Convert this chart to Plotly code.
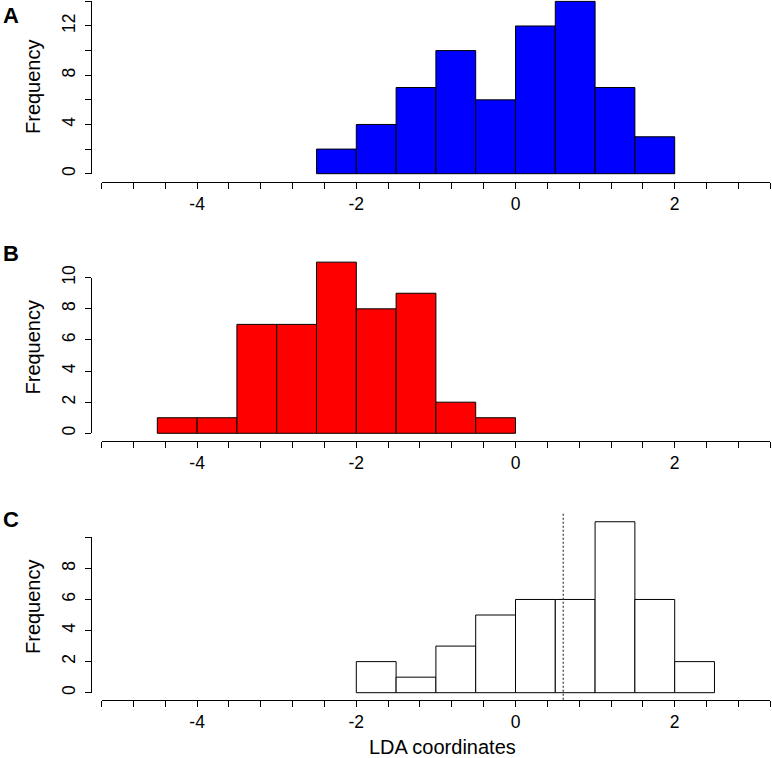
import plotly.graph_objects as go

# ---------------- data ----------------
bin_edges_A = [-2.5, -2.0, -1.5, -1.0, -0.5, 0.0, 0.5, 1.0, 1.5, 2.0]
counts_A = [2, 4, 7, 10, 6, 12, 14, 7, 3]

bin_edges_B = [-4.5, -4.0, -3.5, -3.0, -2.5, -2.0, -1.5, -1.0, -0.5, 0.0]
counts_B = [1, 1, 7, 7, 11, 8, 9, 2, 1]

bin_edges_C = [-2.0, -1.5, -1.0, -0.5, 0.0, 0.5, 1.0, 1.5, 2.0, 2.5]
counts_C = [2, 1, 3, 5, 6, 6, 11, 6, 2]

threshold_C = 0.6

x_tick_values = [-5.2, -4.8, -4.4, -4.0, -3.6, -3.2, -2.8, -2.4, -2.0, -1.6, -1.2,
                 -0.8, -0.4, 0.0, 0.4, 0.8, 1.2, 1.6, 2.0, 2.4, 2.8, 3.2]
x_tick_labelled = [-4, -2, 0, 2]

y_ticks_A = [0, 2, 4, 6, 8, 10, 12, 14]
y_labels_A = ["0", "", "4", "", "8", "", "12", ""]
y_ticks_B = [0, 2, 4, 6, 8, 10]
y_labels_B = ["0", "2", "4", "6", "8", "10"]
y_ticks_C = [0, 2, 4, 6, 8, 10]
y_labels_C = ["0", "2", "4", "6", "8", ""]

panel_letters = ["A", "B", "C"]
y_title = "Frequency"
x_title = "LDA coordinates"

# ---------------- layout geometry (pixels) ----------------
W, H = 772, 758
FONT = "Liberation Sans, Arial, Helvetica, sans-serif"


def fx(px):
    return px / W


def fy(py):
    return 1 - py / H


x_px = (101.6, 770.2)          # pixel span of x range [-5.2, 3.2]
y_axis_px = 90.7               # y axis line x position

panels = [
    dict(zero=173.7, ppu=12.31, xline=181.7, drange=(-0.5, 14.1), yt=y_ticks_A, yl=y_labels_A,
         color="#0000FF", edges=bin_edges_A, counts=counts_A, tcy=87.0, ly=16.0),
    dict(zero=433.3, ppu=15.56, xline=440.7, drange=(-0.44, 11.44), yt=y_ticks_B, yl=y_labels_B,
         color="#FF0000", edges=bin_edges_B, counts=counts_B, tcy=347.5, ly=253.0),
    dict(zero=692.7, ppu=15.54, xline=700.0, drange=(-0.45, 11.55), yt=y_ticks_C, yl=y_labels_C,
         color="#FFFFFF", edges=bin_edges_C, counts=counts_C, tcy=607.0, ly=519.0),
]

fig = go.Figure()
layout = dict(
    width=W, height=H,
    margin=dict(l=0, r=0, t=0, b=0, pad=0, autoexpand=False),
    paper_bgcolor="white", plot_bgcolor="rgba(0,0,0,0)",
    showlegend=False,
    font=dict(family=FONT, color="black"),
    annotations=[], shapes=[],
)

x_ticktext = [("%g" % v) if any(abs(v - t) < 1e-9 for t in x_tick_labelled) else "" for v in x_tick_values]

for i, p in enumerate(panels, start=1):
    xa = "x" if i == 1 else "x%d" % i
    ya_data = "y" if i == 1 else "y%d" % i
    ya_vis = "y%d" % (i + 3)

    centers = [(a + b) / 2 for a, b in zip(p["edges"][:-1], p["edges"][1:])]
    widths = [b - a for a, b in zip(p["edges"][:-1], p["edges"][1:])]
    fig.add_trace(go.Bar(
        x=centers, y=p["counts"], width=widths,
        marker=dict(color=p["color"], line=dict(color="black", width=1)),
        xaxis=xa, yaxis=ya_data, hoverinfo="x+y",
    ))
    fig.add_trace(go.Scatter(x=[], y=[], xaxis=xa, yaxis=ya_vis, mode="markers",
                             showlegend=False, hoverinfo="skip"))

    lo, hi = p["drange"]
    top_tick = p["yt"][-1]

    layout["xaxis" if i == 1 else "xaxis%d" % i] = dict(
        domain=[fx(x_px[0]), fx(x_px[1])],
        range=[x_tick_values[0], x_tick_values[-1]],
        anchor="free", position=fy(p["xline"]),
        showline=True, linecolor="black", linewidth=1,
        ticks="outside", ticklen=6, tickwidth=1, tickcolor="black",
        tickmode="array", tickvals=x_tick_values, ticktext=x_ticktext,
        tickfont=dict(size=17.5, family=FONT, color="black"),
        showgrid=False, zeroline=False, fixedrange=True, automargin=False,
    )
    layout["yaxis" if i == 1 else "yaxis%d" % i] = dict(
        domain=[fy(p["zero"] - lo * p["ppu"]), min(1.0, fy(p["zero"] - hi * p["ppu"]))],
        range=[lo, hi], visible=False, anchor=xa, fixedrange=True,
        showgrid=False, zeroline=False, automargin=False,
    )
    layout["yaxis%d" % (i + 3)] = dict(
        domain=[fy(p["zero"]), fy(p["zero"] - top_tick * p["ppu"])],
        range=[0, top_tick], anchor="free", position=fx(y_axis_px),
        showline=True, linecolor="black", linewidth=1,
        ticks="outside", ticklen=6, tickwidth=1, tickcolor="black",
        tickmode="array", tickvals=p["yt"], ticktext=p["yl"], tickangle=-90,
        tickfont=dict(size=17.5, family=FONT, color="black"),
        ticklabelstandoff=3,
        showgrid=False, zeroline=False, fixedrange=True, automargin=False,
    )

    layout["annotations"].append(dict(
        text=y_title, x=fx(33), y=fy(p["tcy"]), xref="paper", yref="paper",
        textangle=-90, showarrow=False, xanchor="center", yanchor="middle",
        font=dict(size=20, family=FONT, color="black")))
    layout["annotations"].append(dict(
        text="<b>%s</b>" % panel_letters[i - 1], x=fx(11), y=fy(p["ly"]),
        xref="paper", yref="paper", showarrow=False, xanchor="center", yanchor="middle",
        font=dict(size=22, family=FONT, color="black")))

layout["annotations"].append(dict(
    text=x_title, x=fx(442), y=fy(747), xref="paper", yref="paper",
    showarrow=False, xanchor="center", yanchor="middle",
    font=dict(size=20, family=FONT, color="black")))

layout["shapes"].append(dict(
    type="line", xref="x3", yref="y3 domain", x0=threshold_C, x1=threshold_C, y0=0, y1=1,
    line=dict(color="#444444", width=1.3, dash="2px,2px"), layer="above"))

fig.update_layout(**layout)
fig.write_html(
    "out.html",
    config={"displayModeBar": False},
    post_script="document.documentElement.style.margin='0';document.documentElement.style.padding='0';"
                "document.body.style.margin='0';document.body.style.padding='0';"
                "document.body.style.overflow='hidden';",
)
